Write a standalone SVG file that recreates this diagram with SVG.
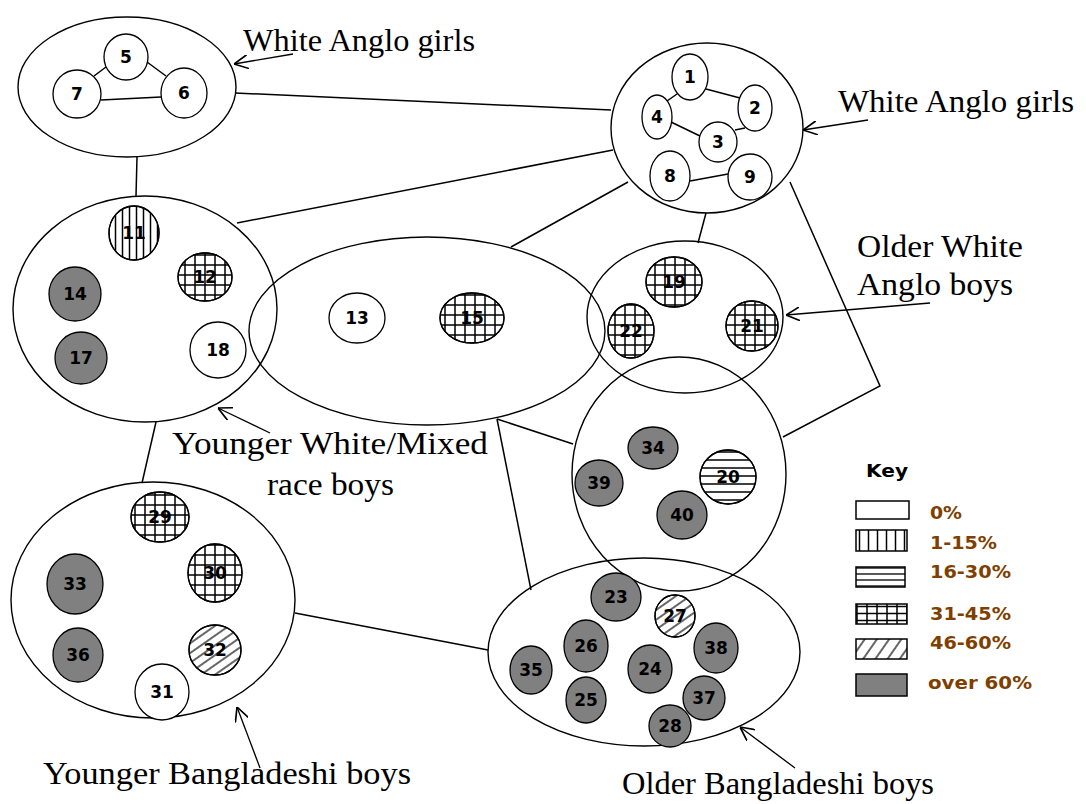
<svg xmlns="http://www.w3.org/2000/svg" width="1086" height="804" viewBox="0 0 1086 804">
<style>
.grp{fill:none;stroke:#000;stroke-width:1.4}
.nd{fill:#fff;stroke:#000;stroke-width:1.3}
.gy{fill:#808080;stroke:#000;stroke-width:1.3}
.ov{stroke:#000;stroke-width:1.3}
.num{font-family:"DejaVu Sans",sans-serif;font-weight:bold;font-size:17px;text-anchor:middle;fill:#000}
.lbl{font-family:"Liberation Serif",serif;font-size:31px;fill:#000}
.ln{fill:none;stroke:#000;stroke-width:1.5}
.ar{fill:none;stroke:#000;stroke-width:1.3;marker-end:url(#arr)}
.key{font-family:"DejaVu Sans",sans-serif;font-weight:bold;font-size:18px}
.kl{font-family:"DejaVu Sans",sans-serif;font-weight:bold;font-size:17px;fill:#7f3f00}
.kb{stroke:#000;stroke-width:1.5}
</style>
<defs>
<marker id="arr" viewBox="0 0 10 10" refX="10" refY="5" markerWidth="14" markerHeight="14" markerUnits="userSpaceOnUse" orient="auto">
<path d="M0,0 L10,5 L0,10" fill="none" stroke="#000" stroke-width="1.2"/>
</marker>
<pattern id="pv" width="7" height="7" patternUnits="userSpaceOnUse"><path d="M3.5,0V7" stroke="#000" stroke-width="1.5"/></pattern>
<pattern id="ph" width="8" height="8" patternUnits="userSpaceOnUse"><path d="M0,4H8" stroke="#000" stroke-width="1.5"/></pattern>
<pattern id="pg" width="10" height="10" patternUnits="userSpaceOnUse"><path d="M5,0V10M0,5H10" stroke="#000" stroke-width="1.5"/></pattern>
<pattern id="pd" width="8" height="8" patternUnits="userSpaceOnUse" patternTransform="rotate(-35)"><path d="M0,4H8" stroke="#000" stroke-width="1.2"/></pattern>
<pattern id="kv" width="9" height="9" patternUnits="userSpaceOnUse"><path d="M4.5,0V9" stroke="#000" stroke-width="1.5"/></pattern>
<pattern id="kh" width="6" height="6" patternUnits="userSpaceOnUse" y="1"><path d="M0,3H6" stroke="#000" stroke-width="1.3"/></pattern>
<pattern id="kg" width="10" height="7" patternUnits="userSpaceOnUse" x="2" y="1"><path d="M5,0V7M0,3.5H10" stroke="#000" stroke-width="1.5"/></pattern>
<pattern id="kd" width="10" height="10" patternUnits="userSpaceOnUse" patternTransform="rotate(-55)"><path d="M0,5H10" stroke="#000" stroke-width="1.2"/></pattern>
</defs>
<rect width="1086" height="804" fill="#fff"/>

<g id="groups">
<ellipse id="g-top-left" class="grp" cx="127" cy="87" rx="109" ry="70"/>
<ellipse id="g-top-right" class="grp" cx="707" cy="128" rx="96" ry="85"/>
<ellipse id="g-younger-white" class="grp" cx="145" cy="309" rx="132" ry="113"/>
<ellipse id="g-middle" class="grp" cx="427" cy="331" rx="178" ry="94"/>
<ellipse id="g-older-white" class="grp" cx="685" cy="317" rx="98" ry="76"/>
<ellipse id="g-right-mid" class="grp" cx="679" cy="474" rx="107" ry="117"/>
<ellipse id="g-younger-bangla" class="grp" cx="153" cy="600" rx="142" ry="118"/>
<ellipse id="g-older-bangla" class="grp" cx="644" cy="652" rx="156" ry="94"/>
</g>

<g id="connectors">
<path class="ln" d="M235,93 L611,110"/>
<path class="ln" d="M137,157 L136,196"/>
<path class="ln" d="M237,223 L613,150"/>
<path class="ln" d="M511,247 L628,182"/>
<path class="ln" d="M706,213 L698,243"/>
<path class="ln" d="M790,182 L880,386 L783,437"/>
<path class="ln" d="M156,422 L142,483"/>
<path class="ln" d="M497,419 L573,444"/>
<path class="ln" d="M497,419 L531,590"/>
<path class="ln" d="M295,613 L488,650"/>
<path class="ln" d="M106,67 L94,76"/>
<path class="ln" d="M147,62 L166,76"/>
<path class="ln" d="M101,100 L161,97"/>
<path class="ln" d="M706,89 L740,98"/>
<path class="ln" d="M677,94 L667,101"/>
<path class="ln" d="M671,122 L700,136"/>
<path class="ln" d="M735,130 L745,128"/>
<path class="ln" d="M690,181 L728,174"/>
<path class="ar" d="M293,54 L234,64"/>
<path class="ar" d="M868,120 L803,130"/>
<path class="ar" d="M930,303 L786,315"/>
<path class="ar" d="M270,433 L218,408"/>
<path class="ar" d="M260,768 L237,707"/>
<path class="ar" d="M795,768 L740,727"/>
</g>

<g id="n5"><ellipse class="nd" cx="126" cy="57" rx="22" ry="23"/><text class="num" x="126" y="63">5</text></g>
<g id="n7"><ellipse class="nd" cx="77" cy="94" rx="24" ry="24"/><text class="num" x="77" y="100">7</text></g>
<g id="n6"><ellipse class="nd" cx="184" cy="93" rx="23" ry="25"/><text class="num" x="184" y="99">6</text></g>

<g id="n1"><ellipse class="nd" cx="690" cy="77" rx="18" ry="23"/><text class="num" x="690" y="83">1</text></g>
<g id="n2"><ellipse class="nd" cx="755" cy="108" rx="17" ry="23"/><text class="num" x="755" y="114">2</text></g>
<g id="n4"><ellipse class="nd" cx="657" cy="117" rx="15" ry="22"/><text class="num" x="657" y="123">4</text></g>
<g id="n3"><ellipse class="nd" cx="718" cy="142" rx="19" ry="20"/><text class="num" x="718" y="148">3</text></g>
<g id="n8"><ellipse class="nd" cx="670" cy="176" rx="20" ry="25"/><text class="num" x="670" y="182">8</text></g>
<g id="n9"><ellipse class="nd" cx="750" cy="177" rx="22" ry="23"/><text class="num" x="750" y="183">9</text></g>

<g id="n11"><ellipse class="nd" cx="134" cy="233" rx="25" ry="27"/><text class="num" x="134" y="239">11</text><ellipse class="ov" fill="url(#pv)" cx="134" cy="233" rx="25" ry="27"/></g>
<g id="n12"><ellipse class="nd" cx="205" cy="277" rx="27" ry="24"/><text class="num" x="205" y="283">12</text><ellipse class="ov" fill="url(#pg)" cx="205" cy="277" rx="27" ry="24"/></g>
<g id="n14"><ellipse class="gy" cx="75" cy="294" rx="26" ry="27"/><text class="num" x="75" y="300">14</text></g>
<g id="n17"><ellipse class="gy" cx="81" cy="358" rx="26" ry="26"/><text class="num" x="81" y="364">17</text></g>
<g id="n18"><ellipse class="nd" cx="218" cy="350" rx="28" ry="28"/><text class="num" x="218" y="356">18</text></g>

<g id="n13"><ellipse class="nd" cx="357" cy="318" rx="28" ry="25"/><text class="num" x="357" y="324">13</text></g>
<g id="n15"><ellipse class="nd" cx="472" cy="318" rx="32" ry="25"/><text class="num" x="472" y="324">15</text><ellipse class="ov" fill="url(#pg)" cx="472" cy="318" rx="32" ry="25"/></g>

<g id="n19"><ellipse class="nd" cx="674" cy="282" rx="28" ry="25"/><text class="num" x="674" y="288">19</text><ellipse class="ov" fill="url(#pg)" cx="674" cy="282" rx="28" ry="25"/></g>
<g id="n22"><ellipse class="nd" cx="631" cy="331" rx="23" ry="27"/><text class="num" x="631" y="337">22</text><ellipse class="ov" fill="url(#pg)" cx="631" cy="331" rx="23" ry="27"/></g>
<g id="n21"><ellipse class="nd" cx="752" cy="326" rx="26" ry="25"/><text class="num" x="752" y="332">21</text><ellipse class="ov" fill="url(#pg)" cx="752" cy="326" rx="26" ry="25"/></g>

<g id="n34"><ellipse class="gy" cx="653" cy="448" rx="25" ry="21"/><text class="num" x="653" y="454">34</text></g>
<g id="n39"><ellipse class="gy" cx="599" cy="483" rx="24" ry="23"/><text class="num" x="599" y="489">39</text></g>
<g id="n20"><ellipse class="nd" cx="728" cy="477" rx="28" ry="27"/><text class="num" x="728" y="483">20</text><ellipse class="ov" fill="url(#ph)" cx="728" cy="477" rx="28" ry="27"/></g>
<g id="n40"><ellipse class="gy" cx="682" cy="515" rx="25" ry="24"/><text class="num" x="682" y="521">40</text></g>

<g id="n29"><ellipse class="nd" cx="160" cy="517" rx="29" ry="25"/><text class="num" x="160" y="523">29</text><ellipse class="ov" fill="url(#pg)" cx="160" cy="517" rx="29" ry="25"/></g>
<g id="n30"><ellipse class="nd" cx="215" cy="573" rx="27" ry="29"/><text class="num" x="215" y="579">30</text><ellipse class="ov" fill="url(#pg)" cx="215" cy="573" rx="27" ry="29"/></g>
<g id="n33"><ellipse class="gy" cx="75" cy="584" rx="28" ry="30"/><text class="num" x="75" y="590">33</text></g>
<g id="n36"><ellipse class="gy" cx="78" cy="655" rx="25" ry="27"/><text class="num" x="78" y="661">36</text></g>
<g id="n32"><ellipse class="nd" cx="215" cy="650" rx="26" ry="25"/><text class="num" x="215" y="656">32</text><ellipse class="ov" fill="url(#pd)" cx="215" cy="650" rx="26" ry="25"/></g>
<g id="n31"><ellipse class="nd" cx="162" cy="692" rx="27" ry="28"/><text class="num" x="162" y="698">31</text></g>

<g id="n23"><ellipse class="gy" cx="616" cy="597" rx="25" ry="24"/><text class="num" x="616" y="603">23</text></g>
<g id="n27"><ellipse class="nd" cx="675" cy="616" rx="20" ry="21"/><text class="num" x="675" y="622">27</text><ellipse class="ov" fill="url(#pd)" cx="675" cy="616" rx="20" ry="21"/></g>
<g id="n26"><ellipse class="gy" cx="586" cy="646" rx="22" ry="26"/><text class="num" x="586" y="652">26</text></g>
<g id="n38"><ellipse class="gy" cx="716" cy="648" rx="22" ry="25"/><text class="num" x="716" y="654">38</text></g>
<g id="n35"><ellipse class="gy" cx="531" cy="670" rx="21" ry="24"/><text class="num" x="531" y="676">35</text></g>
<g id="n24"><ellipse class="gy" cx="650" cy="669" rx="22" ry="24"/><text class="num" x="650" y="675">24</text></g>
<g id="n25"><ellipse class="gy" cx="586" cy="700" rx="20" ry="23"/><text class="num" x="586" y="706">25</text></g>
<g id="n37"><ellipse class="gy" cx="704" cy="698" rx="21" ry="22"/><text class="num" x="704" y="704">37</text></g>
<g id="n28"><ellipse class="gy" cx="670" cy="726" rx="21" ry="21"/><text class="num" x="670" y="732">28</text></g>

<g id="labels">
<text class="lbl" x="243" y="51" textLength="232" lengthAdjust="spacingAndGlyphs">White Anglo girls</text>
<text class="lbl" x="838" y="112" textLength="236" lengthAdjust="spacingAndGlyphs">White Anglo girls</text>
<text class="lbl" x="857" y="257" textLength="166" lengthAdjust="spacingAndGlyphs">Older White</text>
<text class="lbl" x="857" y="295" textLength="156" lengthAdjust="spacingAndGlyphs">Anglo boys</text>
<text class="lbl" x="172" y="454" textLength="316" lengthAdjust="spacingAndGlyphs">Younger White/Mixed</text>
<text class="lbl" x="267" y="495" textLength="127" lengthAdjust="spacingAndGlyphs">race boys</text>
<text class="lbl" x="43" y="784" textLength="368" lengthAdjust="spacingAndGlyphs">Younger Bangladeshi boys</text>
<text class="lbl" x="622" y="794" textLength="312" lengthAdjust="spacingAndGlyphs">Older Bangladeshi boys</text>
</g>

<g id="key">
<text class="key" x="866" y="477" textLength="42" lengthAdjust="spacingAndGlyphs">Key</text>
<rect class="kb" x="856" y="501" width="53" height="18" fill="#fff"/>
<rect class="kb" x="856" y="530" width="51" height="21" fill="url(#kv)"/>
<rect class="kb" x="856" y="567" width="49" height="20" fill="url(#kh)"/>
<rect class="kb" x="856" y="604" width="51" height="20" fill="url(#kg)"/>
<rect class="kb" x="856" y="639" width="51" height="20" fill="url(#kd)"/>
<rect class="kb" x="856" y="674" width="51" height="22" fill="#808080"/>
<text class="kl" x="930" y="519" textLength="32" lengthAdjust="spacingAndGlyphs">0%</text>
<text class="kl" x="930" y="549" textLength="67" lengthAdjust="spacingAndGlyphs">1-15%</text>
<text class="kl" x="930" y="578" textLength="81" lengthAdjust="spacingAndGlyphs">16-30%</text>
<text class="kl" x="930" y="620" textLength="81" lengthAdjust="spacingAndGlyphs">31-45%</text>
<text class="kl" x="930" y="649" textLength="81" lengthAdjust="spacingAndGlyphs">46-60%</text>
<text class="kl" x="928" y="689" textLength="104" lengthAdjust="spacingAndGlyphs">over 60%</text>
</g>
</svg>
